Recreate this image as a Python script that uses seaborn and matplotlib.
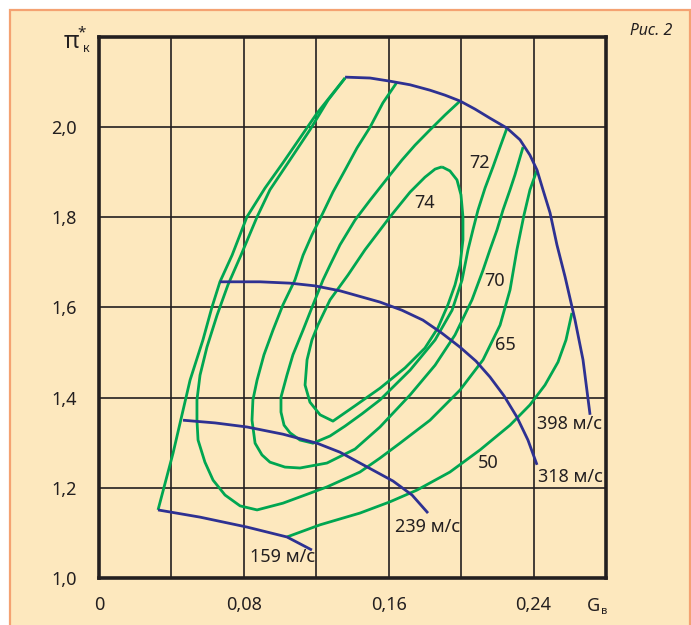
import matplotlib
matplotlib.use("Agg")
import matplotlib.pyplot as plt
import pandas as pd
import seaborn as sns
from matplotlib.patches import Rectangle
from matplotlib.ticker import MultipleLocator, FixedLocator, FuncFormatter

# Compressor map: air flow G_в against total pressure ratio π*к

# Constant circumferential-speed lines (м/с)
speed_labels = ["159 м/с", "239 м/с", "318 м/с", "398 м/с"]
n159_g = [0.0326, 0.0558, 0.0817, 0.1038, 0.1176]
n159_pi = [1.151, 1.135, 1.113, 1.091, 1.062]
n239_g = [0.0464, 0.0641, 0.0817, 0.1016, 0.1204, 0.1331, 0.1441, 0.1624, 0.1729, 0.1817]
n239_pi = [1.350, 1.344, 1.335, 1.319, 1.299, 1.279, 1.255, 1.215, 1.184, 1.144]
n318_g = [0.0668, 0.0889, 0.1055, 0.1193, 0.1331, 0.1552, 0.1673, 0.1789, 0.1894,
          0.1994, 0.2082, 0.2159, 0.2237, 0.2308, 0.2369, 0.2419]
n318_pi = [1.657, 1.657, 1.654, 1.648, 1.637, 1.612, 1.594, 1.572, 1.543,
           1.512, 1.481, 1.446, 1.404, 1.357, 1.306, 1.251]
n398_g = [0.1359, 0.1497, 0.1607, 0.1718, 0.1828, 0.1911, 0.1994, 0.2077, 0.2159,
          0.2253, 0.2325, 0.2380, 0.2419, 0.2452, 0.2491, 0.2529, 0.2574, 0.2629,
          0.2673, 0.2712]
n398_pi = [2.111, 2.109, 2.102, 2.094, 2.082, 2.071, 2.058, 2.040, 2.020,
           1.998, 1.972, 1.938, 1.905, 1.861, 1.810, 1.739, 1.668, 1.572,
           1.484, 1.362]

# Surge boundary
surge_g = [0.0326, 0.0409, 0.0503, 0.0574, 0.0624, 0.0668, 0.0735, 0.0817, 0.0917,
           0.1016, 0.1110, 0.1204, 0.1359]
surge_pi = [1.151, 1.277, 1.439, 1.528, 1.601, 1.657, 1.716, 1.801, 1.865,
            1.921, 1.976, 2.031, 2.109]

# Efficiency contours (%)
eff_labels = ["50", "65", "70", "72", "74"]
eff50_g = [0.1038, 0.1221, 0.1441, 0.1607, 0.1756, 0.1938, 0.2104, 0.2270, 0.2380,
           0.2463, 0.2535, 0.2579, 0.2612]
eff50_pi = [1.091, 1.118, 1.144, 1.169, 1.195, 1.235, 1.284, 1.339, 1.384,
            1.428, 1.479, 1.528, 1.588]
eff65_g = [0.1359, 0.1265, 0.1165, 0.1044, 0.0944, 0.0873, 0.0784, 0.0712, 0.0652,
           0.0596, 0.0558, 0.0541, 0.0541, 0.0547, 0.0585, 0.0630, 0.0696, 0.0779,
           0.0873, 0.1016, 0.1259, 0.1441, 0.1552, 0.1662, 0.1828, 0.1994, 0.2121,
           0.2215, 0.2270, 0.2308, 0.2347, 0.2380, 0.2419]
eff65_pi = [2.109, 2.060, 1.994, 1.921, 1.861, 1.801, 1.716, 1.650, 1.583,
            1.512, 1.450, 1.395, 1.350, 1.306, 1.257, 1.217, 1.184, 1.160,
            1.151, 1.166, 1.202, 1.235, 1.266, 1.299, 1.350, 1.417, 1.484,
            1.561, 1.639, 1.728, 1.805, 1.861, 1.905]
eff70_g = [0.1646, 0.1568, 0.1497, 0.1425, 0.1359, 0.1292, 0.1237, 0.1176, 0.1127,
           0.1082, 0.1016, 0.0961, 0.0911, 0.0873, 0.0850, 0.0845, 0.0862, 0.0900,
           0.0944, 0.1027, 0.1110, 0.1259, 0.1414, 0.1552, 0.1718, 0.1856, 0.1966,
           0.2060, 0.2121, 0.2159, 0.2198, 0.2231, 0.2270, 0.2297, 0.2342]
eff70_pi = [2.100, 2.054, 2.000, 1.954, 1.905, 1.856, 1.810, 1.761, 1.716,
            1.661, 1.606, 1.550, 1.495, 1.439, 1.395, 1.350, 1.299, 1.273,
            1.257, 1.246, 1.244, 1.255, 1.286, 1.335, 1.406, 1.472, 1.539,
            1.617, 1.683, 1.728, 1.772, 1.816, 1.861, 1.894, 1.956]
eff72_g = [0.1994, 0.1911, 0.1828, 0.1745, 0.1673, 0.1607, 0.1497, 0.1414, 0.1331,
           0.1276, 0.1237, 0.1182, 0.1127, 0.1071, 0.1038, 0.1005, 0.1005, 0.1022,
           0.1055, 0.1110, 0.1182, 0.1276, 0.1359, 0.1452, 0.1552, 0.1718, 0.1856,
           0.1950, 0.2005, 0.2038, 0.2065, 0.2093, 0.2132, 0.2176, 0.2215, 0.2253]
eff72_pi = [2.058, 2.027, 1.994, 1.960, 1.927, 1.894, 1.838, 1.794, 1.739,
            1.694, 1.661, 1.606, 1.550, 1.495, 1.450, 1.401, 1.368, 1.339,
            1.322, 1.306, 1.299, 1.315, 1.337, 1.364, 1.395, 1.461, 1.528,
            1.594, 1.661, 1.728, 1.772, 1.816, 1.865, 1.912, 1.956, 1.998]
eff74_g = [0.1894, 0.1938, 0.1977, 0.1999, 0.2010, 0.2010, 0.1994, 0.1966, 0.1927,
           0.1872, 0.1800, 0.1690, 0.1552, 0.1414, 0.1292, 0.1221, 0.1165, 0.1138,
           0.1149, 0.1176, 0.1209, 0.1276, 0.1375, 0.1469, 0.1607, 0.1718, 0.1800,
           0.1856, 0.1894]
eff74_pi = [1.912, 1.903, 1.883, 1.850, 1.801, 1.750, 1.694, 1.650, 1.606,
            1.555, 1.510, 1.466, 1.421, 1.382, 1.348, 1.362, 1.390, 1.428,
            1.484, 1.528, 1.561, 1.617, 1.672, 1.728, 1.801, 1.856, 1.889,
            1.907, 1.912]

x_tick_values = [0, 0.08, 0.16, 0.24]
x_tick_labels = ["0", "0,08", "0,16", "0,24"]
y_tick_values = [1.0, 1.2, 1.4, 1.6, 1.8, 2.0]
y_tick_labels = ["1,0", "1,2", "1,4", "1,6", "1,8", "2,0"]

GREEN = "#00A651"
BLUE = "#2E3192"
CREAM = "#FDE8BE"
INK = "#231F20"

sns.set_theme(style="white")
plt.rcParams["font.family"] = ["Noto Sans", "DejaVu Sans"]

fig = plt.figure(figsize=(6.91, 6.25), dpi=100, facecolor="white")
fig.patches.append(Rectangle((10 / 691, -0.01), 1 - 11.5 / 691, 1 - 10 / 625 + 0.01,
                             transform=fig.transFigure, facecolor=CREAM,
                             edgecolor="#F4A272", linewidth=1.6, zorder=-5))

ax = fig.add_axes([99 / 691, 47 / 625, 507 / 691, 541 / 625])
ax.set_zorder(2)
ax.set_facecolor(CREAM)


def draw(g, p, color, lw=2.0):
    df = pd.DataFrame({"G": g, "pi": p})
    sns.lineplot(data=df, x="G", y="pi", sort=False, estimator=None, color=color,
                 linewidth=lw, ax=ax, legend=False, zorder=3)
    ax.lines[-1].set_solid_joinstyle("round")
    ax.lines[-1].set_solid_capstyle("butt")


for g, p in [(surge_g, surge_pi), (eff50_g, eff50_pi), (eff65_g, eff65_pi),
             (eff70_g, eff70_pi), (eff72_g, eff72_pi), (eff74_g, eff74_pi)]:
    draw(g, p, GREEN)
for g, p in [(n159_g, n159_pi), (n239_g, n239_pi), (n318_g, n318_pi), (n398_g, n398_pi)]:
    draw(g, p, BLUE)

ax.set_xlim(0, 0.28)
ax.set_ylim(1.0, 2.2)
ax.xaxis.set_major_locator(FixedLocator(x_tick_values))
ax.xaxis.set_major_formatter(FuncFormatter(
    lambda v, _: x_tick_labels[x_tick_values.index(round(v, 2))] if round(v, 2) in x_tick_values else ""))
ax.xaxis.set_minor_locator(MultipleLocator(0.04))
ax.yaxis.set_major_locator(FixedLocator(y_tick_values))
ax.yaxis.set_major_formatter(FuncFormatter(
    lambda v, _: y_tick_labels[y_tick_values.index(round(v, 1))] if round(v, 1) in y_tick_values else ""))
ax.grid(True, which="both", color=INK, linewidth=1.2, zorder=1)
ax.set_axisbelow(True)
ax.tick_params(axis="both", which="both", length=0, labelsize=13, labelcolor=INK)
ax.tick_params(axis="x", pad=13)
ax.tick_params(axis="y", pad=16)
ax.set_xlabel("")
ax.set_ylabel("")
for s in ax.spines.values():
    s.set_visible(True)
    s.set_color(INK)
    s.set_linewidth(2.6)
    s.set_zorder(5)

# Efficiency labels
eff_pos = [(0.2148, 1.255), (0.2242, 1.517), (0.2187, 1.659), (0.2104, 1.921), (0.1800, 1.832)]
for lab, (gx, py) in zip(eff_labels, eff_pos):
    ax.text(gx, py, lab, ha="center", va="center", fontsize=13, color=INK, zorder=6)

# Speed labels
speed_pos = [(0.0834, 1.047), (0.1635, 1.113), (0.2424, 1.224), (0.2419, 1.342)]
for lab, (gx, py) in zip(speed_labels, speed_pos):
    ax.text(gx, py, lab, ha="left", va="center", fontsize=13, color=INK, zorder=6)

# Axis titles
fig.text(71 / 691, 1 - 42 / 625, "π", fontsize=17, color=INK, ha="center", va="center")
fig.text(82 / 691, 1 - 33 / 625, "*", fontsize=11, color=INK, ha="center", va="center")
fig.text(86 / 691, 1 - 49 / 625, "к", fontsize=9, color=INK, ha="center", va="center")
fig.text(594 / 691, 1 - 606 / 625, "G", fontsize=13, color=INK, ha="center", va="center")
fig.text(604 / 691, 1 - 611 / 625, "в", fontsize=8, color=INK, ha="center", va="center")
fig.text(651 / 691, 1 - 31 / 625, "Рис. 2", fontsize=11.5, color=INK, ha="center",
         va="center", style="italic", weight="bold")

fig.savefig("out.png", dpi=100, facecolor="white")
